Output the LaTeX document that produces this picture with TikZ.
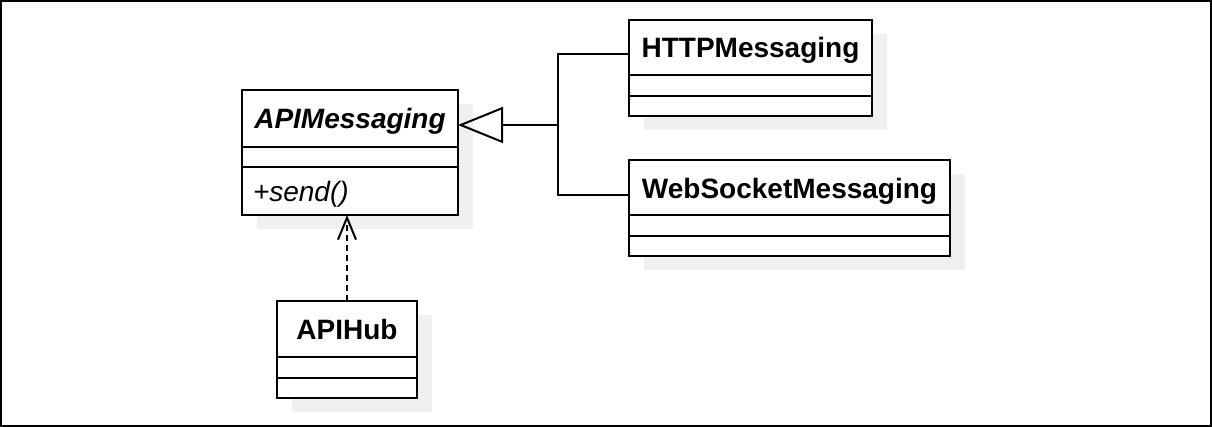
\documentclass[tikz,border=0pt]{standalone}
\usepackage{fontspec}
\setmainfont{Liberation Sans}
\usetikzlibrary{arrows.meta,shadows,positioning}
\tikzset{
	klass/.style={
		rectangle, draw, fill=white,
		line width=2pt, outer sep=0pt, inner sep=0pt,
		minimum height=55pt, text depth=0pt,
		font=\fontsize{28pt}{34pt}\selectfont\bfseries,
		drop shadow={shadow xshift=15pt, shadow yshift=-14pt, fill=black!6, opacity=1},
	},
	slot/.style={
		klass, minimum height=21pt,
		font=\fontsize{28pt}{34pt}\selectfont,
	},
	line/.style={
		draw, line width=2pt,
	},
	inherit/.style={
		line, -{Triangle[open, length=45pt, width=36pt]},
	},
	uses/.style={
		line, dash pattern=on 6pt off 4pt, -{Straight Barb[length=22pt, width=18pt]},
	}
}

\begin{document}
\begin{tikzpicture}[x=1pt, y=-1pt]

	\useasboundingbox (0,0) rectangle (1212,427);
	\draw[line width=2pt] (1,1) rectangle (1211,426);

	% abstract base class
	\node [klass, minimum width=216pt, minimum height=57pt] (api-t) at (350,118.5) {\textit{APIMessaging}};
	\node [slot, minimum width=216pt, minimum height=20pt, below=0pt of api-t] (api-a) {};
	\node [slot, minimum height=48pt, text width=194pt, inner xsep=11pt, align=left, below=0pt of api-a] (api-m) {\textit{+send()}};

	% implementations
	\node [klass, minimum width=243pt] (http-t) at (750.5,47.5) {HTTPMessaging};
	\node [slot, minimum width=243pt, below=0pt of http-t] (http-a) {};
	\node [slot, minimum width=243pt, minimum height=20pt, below=0pt of http-a] (http-m) {};

	\node [klass, minimum width=321pt] (ws-t) at (789.5,188) {WebSocketMessaging};
	\node [slot, minimum width=321pt, below=0pt of ws-t] (ws-a) {};
	\node [slot, minimum width=321pt, minimum height=20pt, below=0pt of ws-a] (ws-m) {};

	\node [klass, minimum width=140pt] (hub-t) at (347,329) {APIHub};
	\node [slot, minimum width=140pt, below=0pt of hub-t] (hub-a) {};
	\node [slot, minimum width=140pt, minimum height=20pt, below=0pt of hub-a] (hub-m) {};

	\coordinate (join) at (558,125);

	\path [inherit] ([yshift=-7pt]http-t.west) -| (join) -- (join -| api-t.east);
	\path [line] ([yshift=-7pt]ws-t.west) -| (join);
	\path [uses] (hub-t.north) -- (hub-t.north |- api-m.south);
\end{tikzpicture}
\end{document}
